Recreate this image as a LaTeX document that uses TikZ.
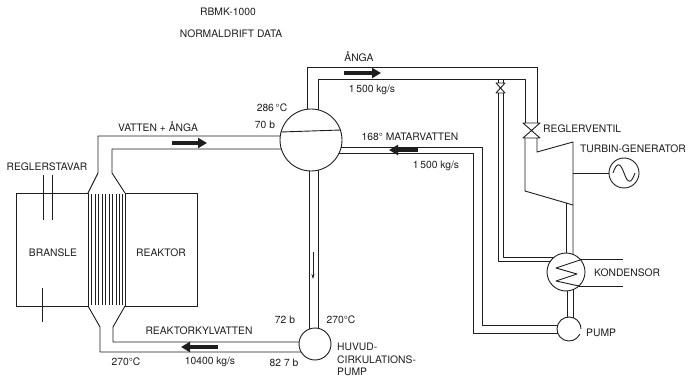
\documentclass[tikz,border=0pt]{standalone}
\usepackage{fontspec}
\setmainfont{TeX Gyre Heros}
\usetikzlibrary{arrows.meta}
\definecolor{ink}{HTML}{1E1E1E}
\begin{document}
\begin{tikzpicture}[x=1pt,y=-1pt,
  pipe/.style={line width=0.9pt, draw=ink, line join=round},
  fine/.style={line width=0.6pt, draw=ink},
  lbl/.style={font=\fontsize{10.3}{12}\selectfont, inner sep=0pt, text=ink},
  flow/.style={line width=3.4pt, draw=ink, -{Triangle[length=9pt,width=10pt]}},
  ring/.style={circle, draw=ink, line width=0.9pt, inner sep=0pt}]
\useasboundingbox[fill=white] (0,0) rectangle (694,377);

% titles
\node[lbl] (t1) at (228,12) {RBMK-1000};
\node[lbl] (t2) at (231,34) {NORMALDRIFT DATA};

% reactor boxes
\draw[pipe] (16,193) rectangle (88,306);
\draw[pipe] (125,193) rectangle (197,306);
\node[lbl] (bransle) at (53,253) {BRANSLE};
\node[lbl] (reaktor) at (161,253) {REAKTOR};
\foreach \x in {91.5,95,98.5,102,105.5,109,112.5,116,119.5,122}
  \draw[fine] (\x,194) -- (\x,305);
% control rods
\draw[fine] (43,175) -- (43,220);
\draw[fine] (52,175) -- (52,220);
\draw[fine] (42,288) -- (42,322);
\node[lbl] (rods) at (47,167) {REGLERSTAVAR};

% components
\node[ring, minimum size=62pt] (drum) at (311,140) {};
\node[ring, minimum size=32pt] (hcp) at (315,344) {};
\node[ring, minimum size=38pt] (kond) at (566,272) {};
\node[circle, inner sep=0pt, minimum size=24pt] (pump) at (569,329) {};
\node[ring, minimum size=30pt] (gen) at (624,173) {};

% drum water level
\draw[pipe] (281,132) -- (341,130);

% riser pipe (reactor -> drum)
\draw[pipe] (88,193) -- (98,173) -- (98,136) -- (280.3,136);
\draw[pipe] (125,193) -- (112,173) -- (112,149) -- (281.3,149);
% return pipe (pump -> reactor)
\draw[pipe] (88,306) -- (100,327) -- (100,352) -- (301.1,352);
\draw[pipe] (125,306) -- (113,327) -- (113,342) -- (299.1,342);
% downcomer
\draw[pipe] (309,170.9) -- (309,329.2);
\draw[pipe] (318,170.2) -- (318,328.3);
\draw[-{Stealth[length=5pt,width=3pt]}, line width=0.6pt, draw=ink] (313,252) -- (313,279);

% steam pipe
\draw[pipe] (307,109.3) -- (307,67) -- (537,67) -- (537,123);
\draw[pipe] (318,110) -- (318,79) -- (525,79) -- (525,123);
% control valve
\draw[pipe] (523,123) -- (540,123) -- (523,138) -- (540,138) -- cycle;
% turbine
\draw[pipe] (537,138) -- (537,152) -- (573,142) -- (573,254.3);
\draw[pipe] (525,138) -- (525,191) -- (573,205);
\draw[pipe] (566,203) -- (566,253);
% shaft + generator
\draw[pipe] (573,173) -- (gen.west);
\draw[pipe] (613,173) .. controls (617,162) and (620,162) .. (624,173)
  .. controls (628,184) and (631,184) .. (635,173);

% bypass
\draw[pipe] (498,79) -- (498,83);
\draw[pipe] (503,79) -- (503,83);
\draw[pipe] (496,83) -- (505,83) -- (496,93) -- (505,93) -- cycle;
\draw[pipe] (498,93) -- (498,261) -- (550.5,261);
\draw[pipe] (503,93) -- (503,257) -- (554.3,257);

% condenser
\draw[pipe] (579.9,259) -- (623,259);
\draw[pipe] (578.8,286) -- (623,286);
\draw[pipe] (580,260) -- (556,268) -- (577,274) -- (556,281) -- (579,286);
\draw[pipe] (567,291) -- (567,317.2);
\draw[pipe] (573,289.7) -- (573,317.7);
% feed pump
\draw[pipe] (569,329) ++(25:12) arc[start angle=25, end angle=360, radius=12];
% feedwater pipe
\draw[pipe] (341.2,147) -- (482,147) -- (482,325) -- (557.7,325);
\draw[pipe] (339.1,153) -- (473,153) -- (473,333) -- (557.7,333);

% flow arrows
\draw[flow] (172,143) -- (207,143);
\draw[flow] (344,73) -- (381,73);
\draw[flow] (418,150) -- (389,150);
\draw[flow] (218,347) -- (181,347);

% labels
\node[lbl] (l1) at (158,127) {VATTEN + ÅNGA};
\node[lbl] (l2) at (272,108) {286\,°C};
\node[lbl] (l3) at (265,125) {70 b};
\node[lbl] (l4) at (359,57) {ÅNGA};
\node[lbl] (l5) at (372,90) {1\,500 kg/s};
\node[lbl] (l6) at (410,137) {168° MATARVATTEN};
\node[lbl] (l7) at (436,166) {1\,500 kg/s};
\node[lbl, anchor=west] (l8) at (543,129) {REGLERVENTIL};
\node[lbl, anchor=west] (l9) at (580,149) {TURBIN-GENERATOR};
\node[lbl, anchor=west] (l10) at (594,273) {KONDENSOR};
\node[lbl, anchor=west] (l11) at (586,333) {PUMP};
\node[lbl] (l12) at (285,320) {72 b};
\node[lbl] (l13) at (341,320) {270°C};
\node[lbl] (l14) at (199,331) {REAKTORKYLVATTEN};
\node[lbl] (l15) at (126,362) {270°C};
\node[lbl] (l16) at (210,362) {10400 kg/s};
\node[lbl] (l17) at (284,363) {82 7 b};
\node[lbl, anchor=west] (l18) at (337,347) {HUVUD-};
\node[lbl, anchor=west] (l19) at (337,359.5) {CIRKULATIONS-};
\node[lbl, anchor=west] (l20) at (337,371.5) {PUMP};
\end{tikzpicture}
\end{document}
